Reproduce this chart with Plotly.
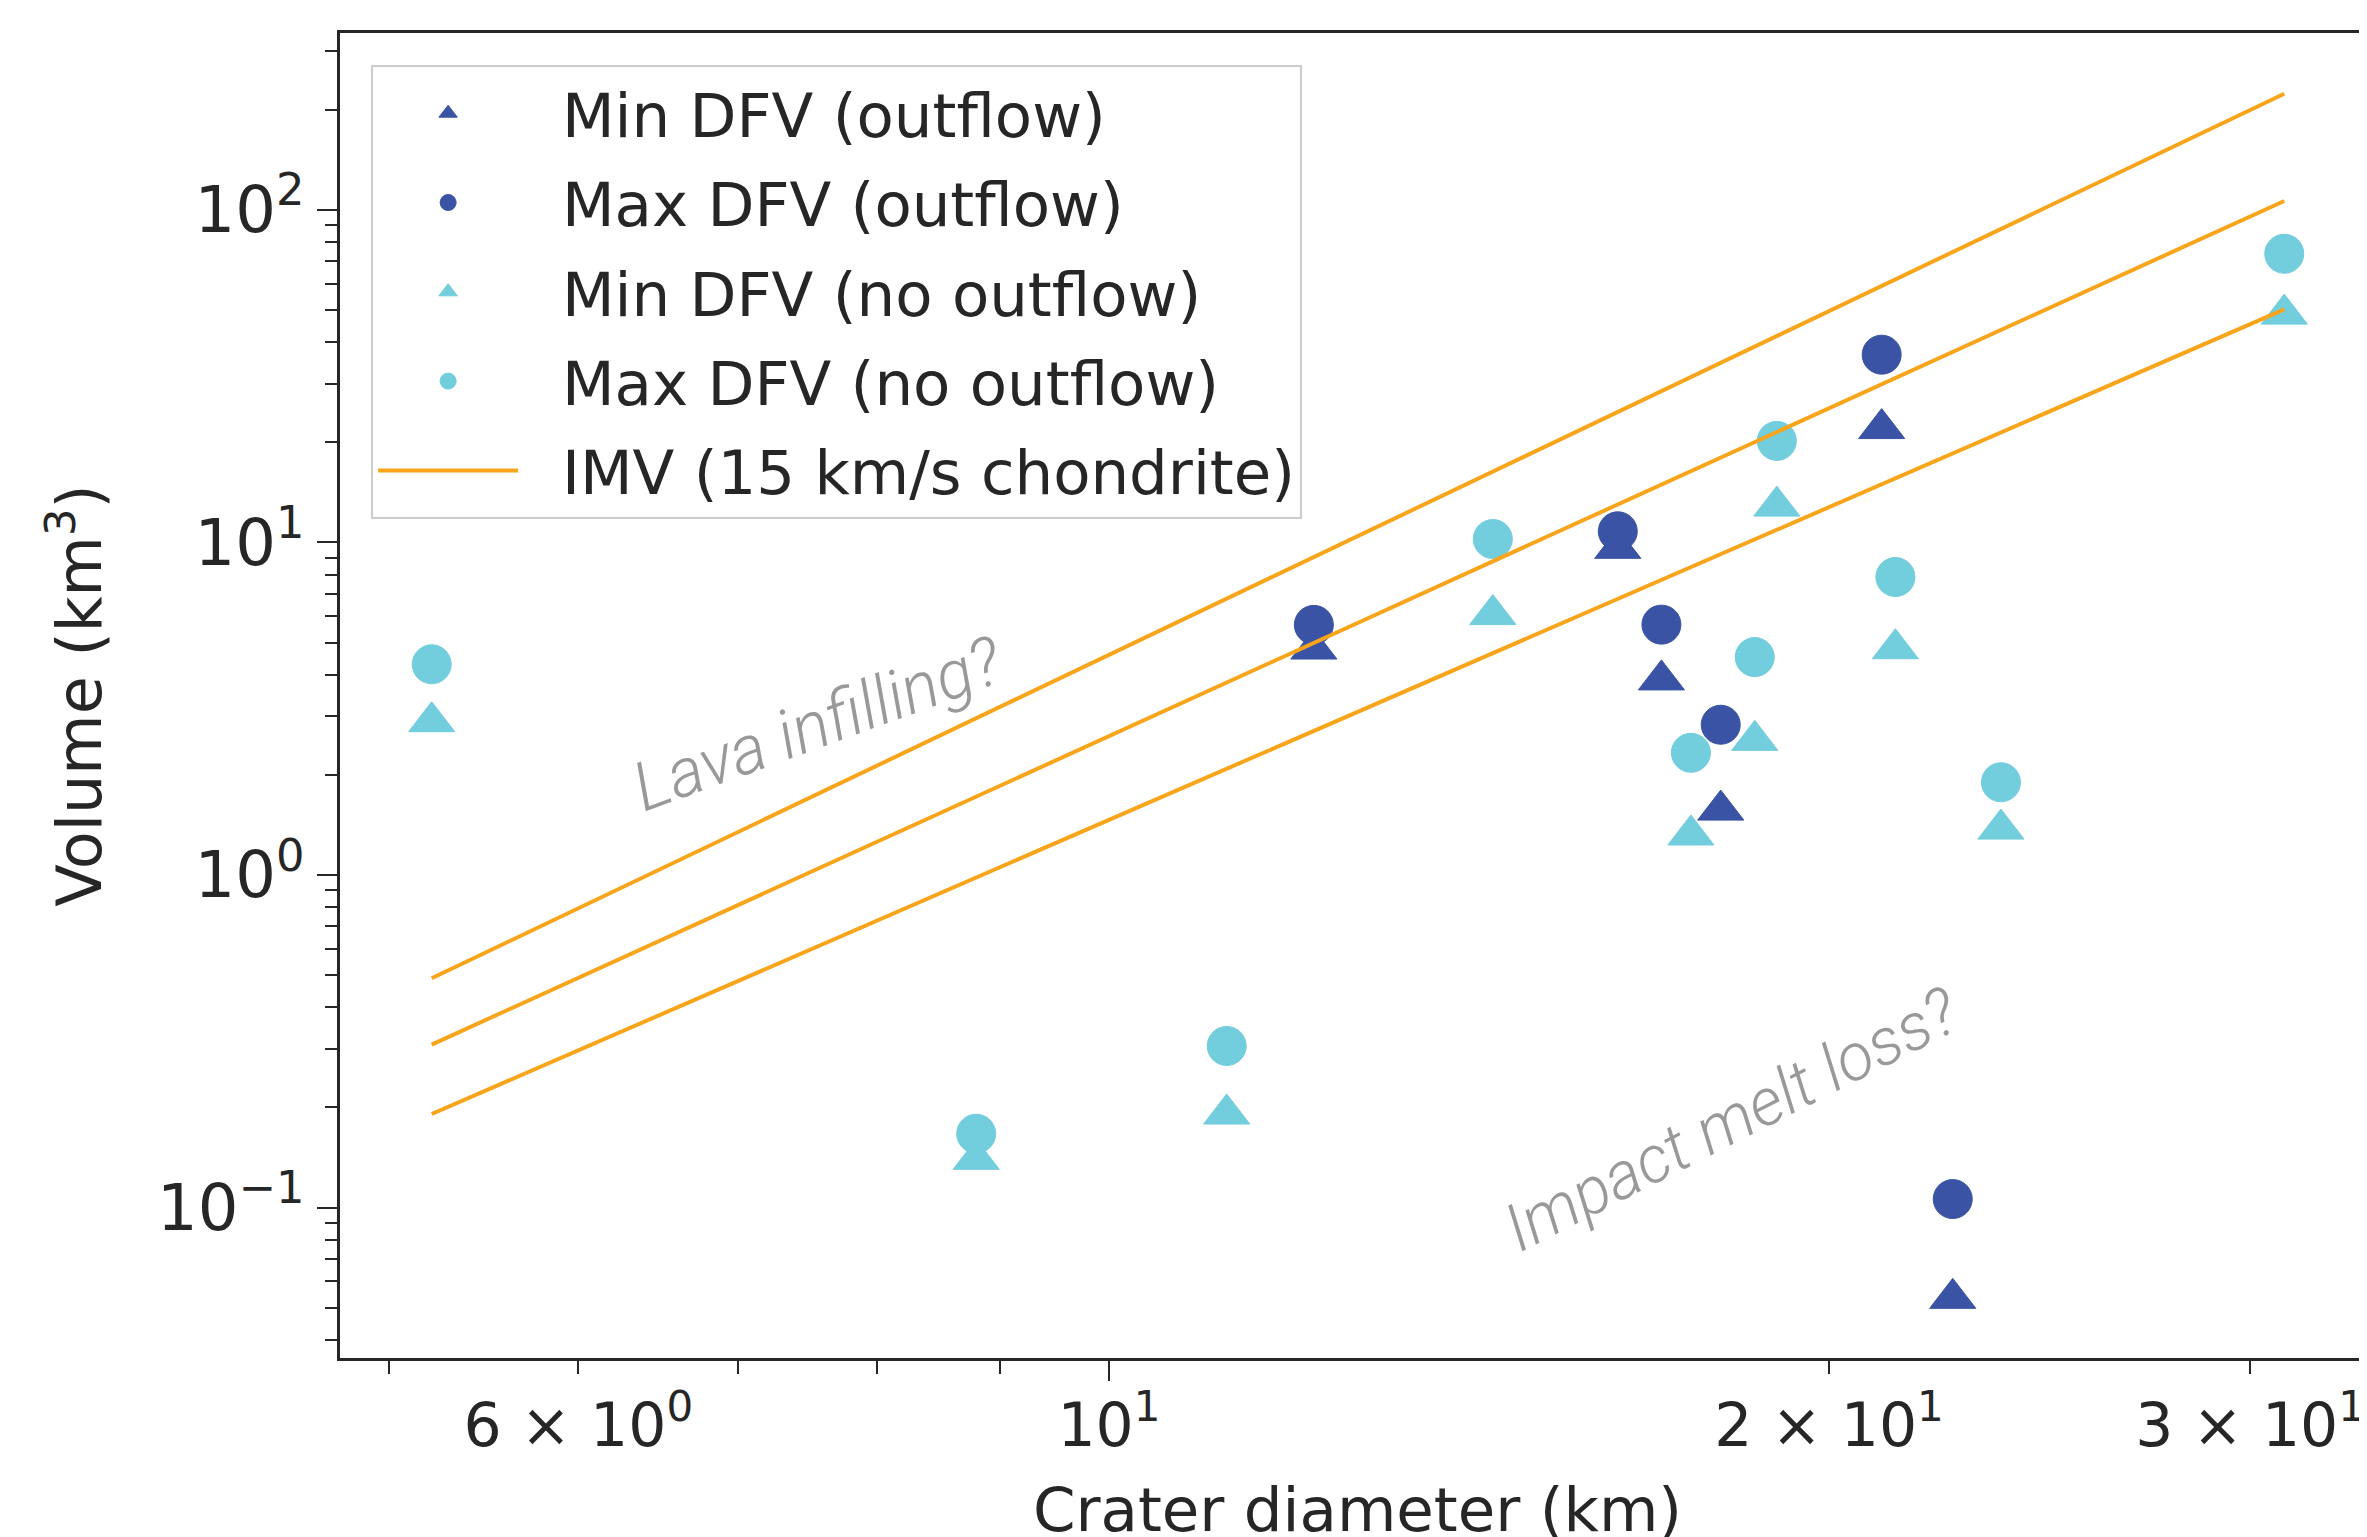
import plotly.graph_objects as go

# ---- data ----
# outflow craters
d_out = [12.18, 16.32, 17.02, 18.02, 21.04, 22.53]
min_out = [4.78, 9.6, 3.86, 1.567, 22.0, 0.0533]
max_out = [5.65, 10.8, 5.66, 2.83, 36.7, 0.106]

# no-outflow craters
d_no = [5.21, 8.80, 11.20, 14.47, 17.51, 18.62, 19.02, 21.32, 23.60, 31.0]
min_no = [2.89, 0.1396, 0.191, 6.07, 1.319, 2.54, 12.86, 4.79, 1.374, 48.6]
max_no = [4.30, 0.1667, 0.306, 10.24, 2.33, 4.52, 20.2, 7.87, 1.90, 73.8]

# IMV lines (15 km/s chondrite): endpoints
imv_d = [5.21, 31.0]
imv_hi = [0.489, 223.6]
imv_mid = [0.309, 106.4]
imv_lo = [0.191, 50.2]

names = ["Min DFV (outflow)", "Max DFV (outflow)", "Min DFV (no outflow)",
         "Max DFV (no outflow)", "IMV (15 km/s chondrite)"]

x_ticks = [6, 10, 20, 30]
x_ticktext = ["6 × 10<sup>0</sup>", "10<sup>1</sup>", "2 × 10<sup>1</sup>", "3 × 10<sup>1</sup>"]
x_minor = [5, 7, 8, 9, 40]
y_ticks = [0.1, 1, 10, 100]
y_ticktext = ["10<sup>−1</sup>", "10<sup>0</sup>", "10<sup>1</sup>", "10<sup>2</sup>"]
y_minor = [m * 10 ** k for k in range(-2, 3) for m in range(2, 10)]

DARK = "#3A53A4"
LIGHT = "#72CDDD"
ORANGE = "#F9A51B"
INK = "#262626"
FONT = "DejaVu Sans"
PAD = "\u00a0\u00a0"  # small gap between legend symbol and label

XR = [0.6785, 1.5293]
YR = [-1.4526, 2.532]

fig = go.Figure()

def pts(x, y, color, symbol, name, size):
    fig.add_trace(go.Scatter(
        x=x, y=y, mode="markers", name=PAD + name, legendgroup=name,
        marker=dict(color=color, symbol=symbol, size=size,
                    line=dict(width=1, color=color)),
    ))

pts(d_out, min_out, DARK, "triangle-up", names[0], 40)
pts(d_out, max_out, DARK, "circle", names[1], 39)
pts(d_no, min_no, LIGHT, "triangle-up", names[2], 40)
pts(d_no, max_no, LIGHT, "circle", names[3], 39)

for i, yy in enumerate([imv_hi, imv_mid, imv_lo]):
    fig.add_trace(go.Scatter(
        x=imv_d, y=yy, mode="lines", name=PAD + names[4],
        legendgroup="imv", showlegend=(i == 0),
        line=dict(color=ORANGE, width=4),
    ))

# helper trace for the long major tick at 10
fig.add_trace(go.Scatter(x=[], y=[], xaxis="x2", showlegend=False, hoverinfo="skip"))

fig.add_annotation(x=0.8783, y=0.4541, xref="x", yref="y", text="Lava infilling?",
                   showarrow=False, textangle=-20,
                   font=dict(family="Roboto", size=68, color="#999999", style="italic", weight=300))
fig.add_annotation(x=1.2602, y=-0.734, xref="x", yref="y", text="Impact melt loss?",
                   showarrow=False, textangle=-27,
                   font=dict(family="Roboto", size=66, color="#999999", style="italic", weight=300))

fig.update_layout(
    width=2367, height=1537,
    margin=dict(l=332, r=0, t=25, b=187, autoexpand=False),
    paper_bgcolor="white", plot_bgcolor="white",
    font=dict(family=FONT, size=60, color=INK),
    xaxis=dict(
        type="log", range=XR, showgrid=False, zeroline=False,
        showline=True, linecolor=INK, linewidth=2.5, mirror=True,
        ticks="outside", ticklen=13, tickwidth=2, tickcolor=INK,
        tickmode="array", tickvals=x_ticks, ticktext=x_ticktext,
        tickfont=dict(family=FONT, size=60, color=INK),
        minor=dict(tickmode="array", tickvals=x_minor, ticks="outside",
                   ticklen=13, tickwidth=2, tickcolor=INK, showgrid=False),
        title=dict(text="Crater diameter (km)", standoff=36,
                   font=dict(family=FONT, size=61, color=INK)),
    ),
    xaxis2=dict(
        type="log", range=XR, overlaying="x", anchor="y", side="bottom",
        showgrid=False, zeroline=False, showline=False, showticklabels=False,
        ticks="outside", ticklen=22, tickwidth=2, tickcolor=INK,
        tickmode="array", tickvals=[10],
    ),
    yaxis=dict(
        type="log", range=YR, showgrid=False, zeroline=False,
        showline=True, linecolor=INK, linewidth=2.5, mirror=False,
        ticks="outside", ticklen=20, tickwidth=2, tickcolor=INK,
        tickmode="array", tickvals=y_ticks, ticktext=y_ticktext,
        tickfont=dict(family=FONT, size=64, color=INK),
        minor=dict(tickmode="array", tickvals=y_minor, ticks="outside",
                   ticklen=12, tickwidth=2, tickcolor=INK, showgrid=False),
        title=dict(text="Volume (km<sup>3</sup>)", standoff=36,
                   font=dict(family=FONT, size=62, color=INK)),
    ),
    legend=dict(
        x=0.0153, y=0.9758, xanchor="left", yanchor="top",
        bgcolor="rgba(255,255,255,0.85)", bordercolor="#CCCCCC", borderwidth=2,
        font=dict(family=FONT, size=61, color=INK),
        tracegroupgap=7, itemwidth=140, itemsizing="trace",
    ),
    showlegend=True,
)

fig.write_html("out.html")
